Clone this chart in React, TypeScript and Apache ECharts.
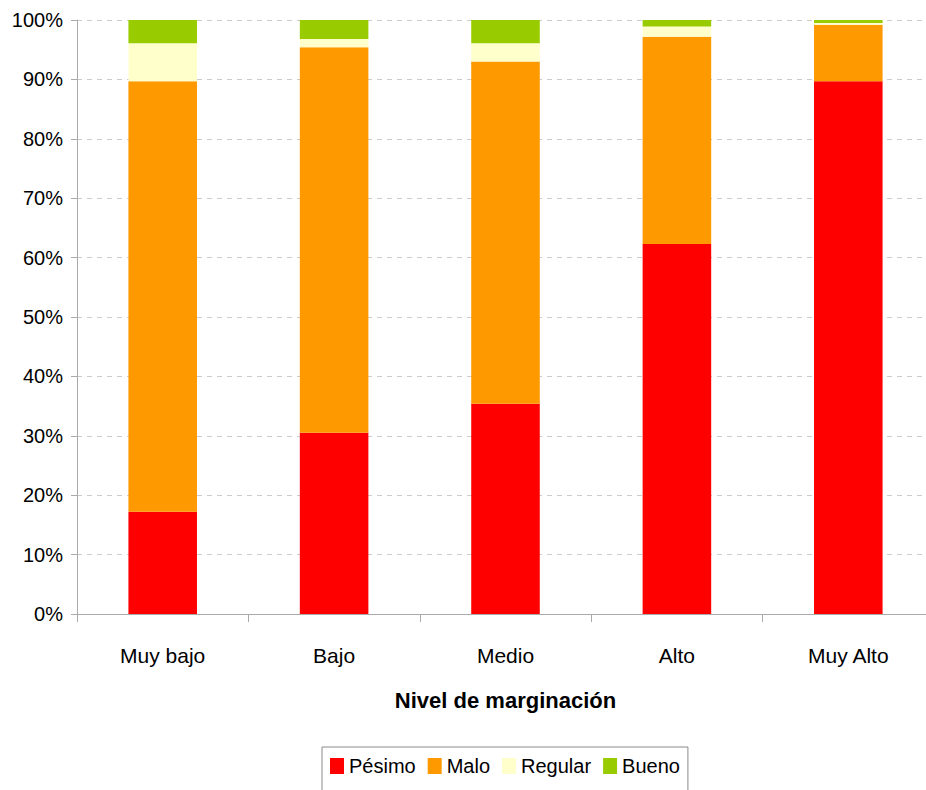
import React, { useEffect, useRef } from "react";
import * as echarts from "echarts";

const categories = ["Muy bajo", "Bajo", "Medio", "Alto", "Muy Alto"];
const pesimo = [17.2, 30.5, 35.4, 62.3, 89.7];
const malo = [72.5, 64.9, 57.6, 34.9, 9.5];
const regular = [6.4, 1.4, 3.1, 1.7, 0.3];
const bueno = [3.9, 3.2, 3.9, 1.1, 0.5];
const seriesNames = ["Pésimo", "Malo", "Regular", "Bueno"];
const seriesColors = ["#FF0000", "#FF9900", "#FFFFCC", "#99CC00"];

const FONT = "'Liberation Sans', Arial, sans-serif";

export default function App() {
  const ref = useRef<HTMLDivElement>(null);
  useEffect(() => {
    if (!ref.current) return;
    const chart = echarts.init(ref.current, null, { renderer: "svg" });
    const data = [pesimo, malo, regular, bueno];
    chart.setOption({
      animation: false,
      backgroundColor: "#ffffff",
      textStyle: { fontFamily: FONT },
      grid: { left: 77, top: 20, width: 857, height: 594 },
      legend: {
        left: 322,
        top: 747,
        padding: [9, 8, 20, 8],
        borderColor: "#8a8a8a",
        borderWidth: 1,
        itemWidth: 14,
        itemHeight: 16,
        itemGap: 12,
        icon: "rect",
        textStyle: { fontSize: 20, color: "#000", fontFamily: FONT },
        data: seriesNames,
      },
      xAxis: {
        type: "category",
        data: categories,
        name: "Nivel de marginación",
        nameLocation: "middle",
        nameGap: 75,
        nameTextStyle: { fontSize: 22, fontWeight: "bold", color: "#000", fontFamily: FONT },
        axisLine: { lineStyle: { color: "#aaaaaa", width: 1 } },
        axisTick: { show: true, length: 8, lineStyle: { color: "#aaaaaa" } },
        axisLabel: { fontSize: 21, color: "#000", margin: 31, fontFamily: FONT },
      },
      yAxis: {
        type: "value",
        min: 0,
        max: 100,
        interval: 10,
        axisLine: { show: true, lineStyle: { color: "#aaaaaa", width: 1 } },
        axisTick: { show: true, length: 6, lineStyle: { color: "#aaaaaa" } },
        axisLabel: { fontSize: 20, color: "#000", margin: 14, formatter: "{value}%", fontFamily: FONT },
        splitLine: { show: true, lineStyle: { color: "#cccccc", type: [5, 5], width: 1 } },
      },
      series: seriesNames.map((name, i) => ({
        name,
        type: "bar",
        stack: "total",
        barWidth: "40%",
        data: data[i],
        itemStyle: { color: seriesColors[i] },
      })),
    });
    return () => chart.dispose();
  }, []);
  return (
    <div
      ref={ref}
      style={{ position: "fixed", left: 0, top: 0, width: 940, height: 790, background: "#fff" }}
    />
  );
}
